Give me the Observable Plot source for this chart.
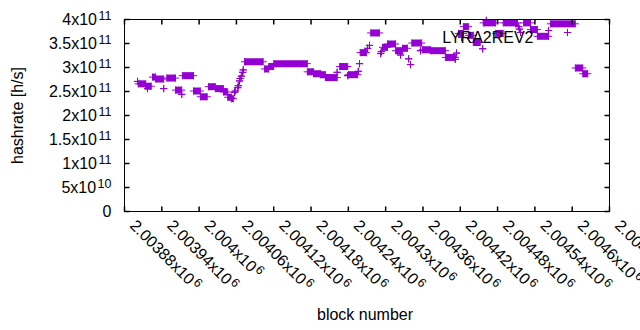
<!DOCTYPE html>
<html><head><meta charset="utf-8">
<script src="https://cdn.jsdelivr.net/npm/d3@7"></script>
<script src="https://cdn.jsdelivr.net/npm/@observablehq/plot@0.6"></script>
<style>html,body{margin:0;padding:0;background:#fff;overflow:hidden}</style>
</head><body>
<script>
const seriesName = "LYRA2REV2";
// runs of consecutive blocks sharing one hashrate value (start block, end block, value)
const runStart = [2003901,2003902,2003914,2003917,2003925,2003930,2003943,2003948,2003962,2003972,2003973,2003991,2004002,2004015,2004026,2004039,2004046,2004052,2004057,2004058,2004062,2004063,2004065,2004066,2004068,2004070,2004071,2004073,2004105,2004112,2004120,2004174,2004184,2004195,2004203,2004222,2004226,2004239,2004240,2004256,2004258,2004259,2004271,2004274,2004276,2004292,2004293,2004295,2004303,2004316,2004324,2004327,2004337,2004340,2004342,2004356,2004359,2004372,2004396,2004412,2004414,2004417,2004422,2004425,2004433,2004441,2004456,2004457,2004462,2004477,2004489,2004514,2004515,2004517,2004522,2004533,2004544,2004562,2004565,2004605,2004617];
const runEnd   = [2003901,2003914,2003923,2003917,2003930,2003943,2003943,2003962,2003972,2003972,2003991,2004002,2004013,2004026,2004039,2004046,2004052,2004055,2004057,2004058,2004062,2004063,2004065,2004066,2004068,2004070,2004071,2004103,2004112,2004120,2004174,2004184,2004195,2004203,2004222,2004222,2004239,2004239,2004255,2004256,2004258,2004269,2004271,2004274,2004290,2004292,2004293,2004303,2004316,2004327,2004324,2004335,2004337,2004340,2004358,2004356,2004372,2004396,2004412,2004412,2004414,2004425,2004422,2004433,2004441,2004452,2004456,2004477,2004462,2004489,2004512,2004514,2004515,2004517,2004533,2004544,2004562,2004562,2004605,2004617,2004625];
const runValue = [2.71e11,2.66e11,2.61e11,2.56e11,2.80e11,2.76e11,2.56e11,2.78e11,2.53e11,2.44e11,2.83e11,2.51e11,2.39e11,2.60e11,2.56e11,2.49e11,2.38e11,2.35e11,2.48e11,2.51e11,2.58e11,2.62e11,2.72e11,2.77e11,2.82e11,2.90e11,2.95e11,3.12e11,2.97e11,3.02e11,3.08e11,2.91e11,2.87e11,2.85e11,2.79e11,2.90e11,3.02e11,2.83e11,2.85e11,2.92e11,3.08e11,3.31e11,3.40e11,3.46e11,3.72e11,3.29e11,3.33e11,3.42e11,3.49e11,3.35e11,3.26e11,3.40e11,3.18e11,3.06e11,3.51e11,3.35e11,3.37e11,3.35e11,3.21e11,3.17e11,3.30e11,3.71e11,3.63e11,3.85e11,3.67e11,3.52e11,3.39e11,3.93e11,3.98e11,3.71e11,3.93e11,3.85e11,3.80e11,3.73e11,3.93e11,3.79e11,3.65e11,3.77e11,3.91e11,2.99e11,2.87e11];

const xTicks = [2003880,2003940,2004000,2004060,2004120,2004180,2004240,2004300,2004360,2004420,2004480,2004540,2004600,2004660];
const xTickLabels = ["2.00388x10^6","2.00394x10^6","2.004x10^6","2.00406x10^6","2.00412x10^6","2.00418x10^6","2.00424x10^6","2.0043x10^6","2.00436x10^6","2.00442x10^6","2.00448x10^6","2.00454x10^6","2.0046x10^6","2.00466x10^6"];
const yTicks = [0,5e10,1e11,1.5e11,2e11,2.5e11,3e11,3.5e11,4e11];
const yTickLabels = ["0","5x10^10","1x10^11","1.5x10^11","2x10^11","2.5x10^11","3x10^11","3.5x10^11","4x10^11"];

const color = "#9400D3";
const runs = runStart.map((s, i) => ({start: s, end: runEnd[i], value: runValue[i]}));

const plus = {draw(c, size) { const r = Math.sqrt(size / Math.PI); c.moveTo(-r, 0); c.lineTo(r, 0); c.moveTo(0, -r); c.lineTo(0, r); }};
const TL = 5;
const tickRight = {draw(c) { c.moveTo(0, 0); c.lineTo(TL, 0); }};
const tickLeft = {draw(c) { c.moveTo(0, 0); c.lineTo(-TL, 0); }};
const tickUp = {draw(c) { c.moveTo(0, 0); c.lineTo(0, -TL); }};
const tickDown = {draw(c) { c.moveTo(0, 0); c.lineTo(0, TL); }};

const svg = Plot.plot({
  width: 640, height: 330,
  marginLeft: 124, marginRight: 31, marginTop: 19, marginBottom: 119,
  style: {fontFamily: "Liberation Sans", fontSize: "16px", background: "white", color: "black"},
  x: {domain: [2003880, 2004660], axis: null},
  y: {domain: [0, 4e11], axis: null},
  marks: [
    Plot.link(runs, {x1: "start", x2: "end", y1: "value", y2: "value", stroke: color, strokeWidth: 7, strokeLinecap: "butt"}),
    Plot.dot(runs, {x: "start", y: "value", symbol: plus, r: 3.6, stroke: color, fill: "none", strokeWidth: 1}),
    Plot.dot(runs, {x: "end", y: "value", symbol: plus, r: 3.6, stroke: color, fill: "none", strokeWidth: 1}),
    Plot.frame({stroke: "black", strokeWidth: 1}),
    Plot.dot(yTicks, {y: d => d, frameAnchor: "left", symbol: tickRight, stroke: "black", fill: "none", r: 1}),
    Plot.dot(yTicks, {y: d => d, frameAnchor: "right", symbol: tickLeft, stroke: "black", fill: "none", r: 1}),
    Plot.dot(xTicks, {x: d => d, frameAnchor: "bottom", symbol: tickUp, stroke: "black", fill: "none", r: 1}),
    Plot.dot(xTicks, {x: d => d, frameAnchor: "top", symbol: tickDown, stroke: "black", fill: "none", r: 1}),
    Plot.text(yTicks, {y: d => d, text: (d, i) => yTickLabels[i], frameAnchor: "left", textAnchor: "end", dx: -13, fill: "black"}),
    Plot.text(xTicks, {x: d => d, text: (d, i) => xTickLabels[i], frameAnchor: "bottom", textAnchor: "start", rotate: 45, dx: 4.5, dy: 15, fill: "black"}),
    Plot.text(["hashrate [h/s]"], {text: d => d, frameAnchor: "left", textAnchor: "middle", rotate: -90, dx: -107, fill: "black"}),
    Plot.text(["block number"], {text: d => d, frameAnchor: "bottom", textAnchor: "middle", dx: -2, dy: 108, fill: "black"}),
    Plot.text([seriesName], {text: d => d, frameAnchor: "top-right", textAnchor: "end", dx: -76, dy: 12.5, fill: "black"}),
    Plot.dot([seriesName], {frameAnchor: "top-right", dx: -42, dy: 13, symbol: plus, r: 3.6, stroke: color, fill: "none", strokeWidth: 1})
  ]
});

d3.select(svg).selectAll("text").each(function() {
  const t = this.textContent;
  const i = t.indexOf("^");
  if (i < 0) return;
  const sel = d3.select(this);
  sel.text(null);
  sel.append("tspan").text(t.slice(0, i));
  sel.append("tspan").attr("dx", 1.5).attr("dy", -5).attr("font-size", 12.5).text(t.slice(i + 1));
});

document.body.appendChild(svg);
</script>
</body></html>
